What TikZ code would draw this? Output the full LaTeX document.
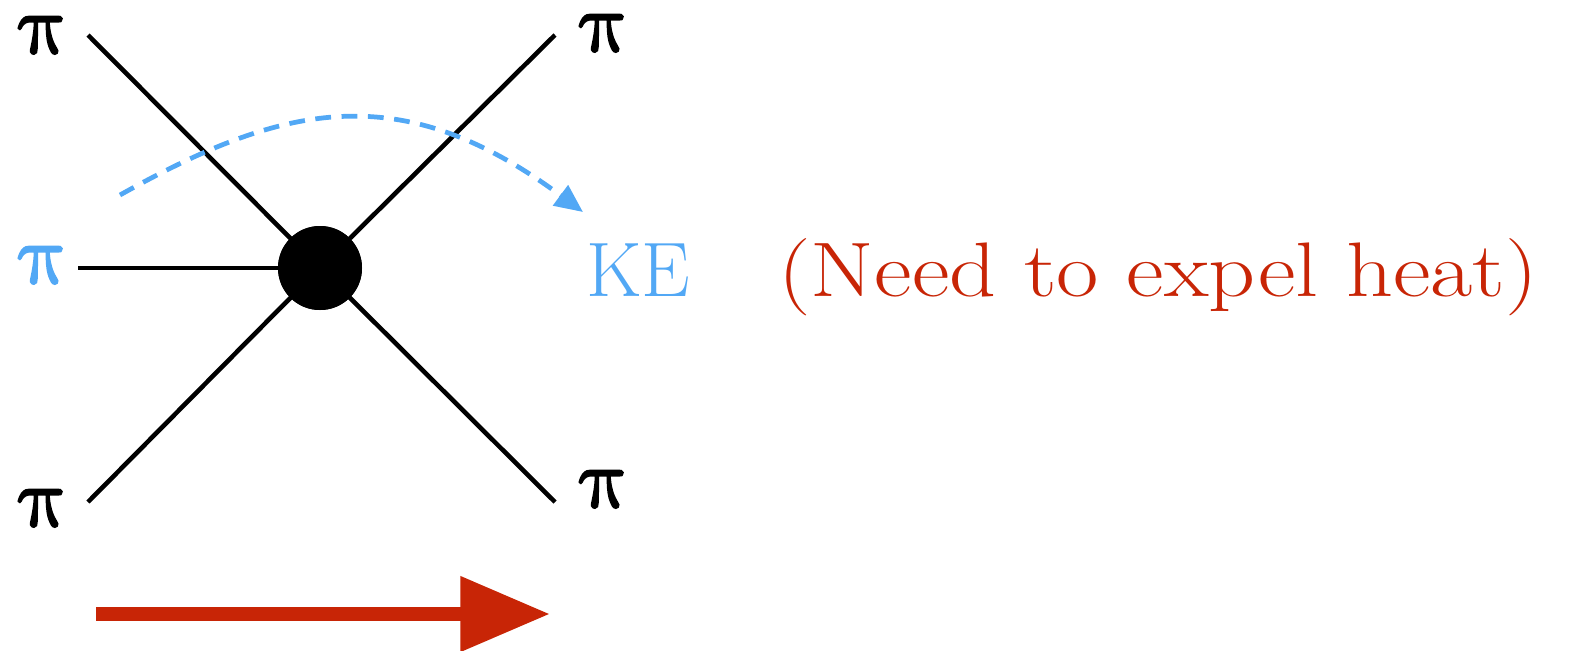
\documentclass[tikz,border=0pt]{standalone}
\usepackage{fontspec}
\newfontfamily\pifont{Latin Modern Math}[FakeBold=2.5]
\usetikzlibrary{arrows.meta}
\definecolor{kblue}{HTML}{52A8F5}
\definecolor{kred}{HTML}{C82506}
\tikzset{
  leg/.style={line width=2.6pt, black},
  pilabel/.style={inner sep=0pt, anchor=base, text height=0.45em, text depth=0.02em, font=\pifont\fontsize{48}{48}\selectfont},
  keflow/.style={kblue, line width=2.7pt, dash pattern=on 9pt off 6pt, -{Triangle[length=16pt,width=14pt]}},
  bigarrow/.style={kred, line width=8pt, -{Triangle[length=51pt,width=41pt]}},
  bigtext/.style={inner sep=0pt, anchor=base west, font=\fontsize{44}{44}\selectfont},
}
\begin{document}
\begin{tikzpicture}[x=0.02cm,y=-0.02cm]
\useasboundingbox (0,0) rectangle (1572,650);
% vertex
\node[circle, fill=black, minimum size=84*0.02cm, inner sep=0pt] (c) at (320,268) {};
% leg end points
\coordinate (tl) at (88,35);
\coordinate (tr) at (555,35);
\coordinate (bl) at (88,502);
\coordinate (br) at (555,502);
\coordinate (ml) at (78,268);
\draw[leg] (tl) -- (c.center);
\draw[leg] (tr) -- (c.center);
\draw[leg] (bl) -- (c.center);
\draw[leg] (br) -- (c.center);
\draw[leg] (ml) -- (c.center);
\node[circle, fill=black, minimum size=84*0.02cm, inner sep=0pt] at (c.center) {};
% labels
\node[pilabel] (p1) at (43,53) {π};
\node[pilabel] (p2) at (604,51) {π};
\node[pilabel, text=kblue] (p3) at (43,283) {π};
\node[pilabel] (p4) at (43,526) {π};
\node[pilabel] (p5) at (604,507) {π};
% KE flow
\coordinate (ks) at (120,195);
\coordinate (ke) at (583,212);
\draw[keflow] (ks) .. controls (286,102) and (402,78) .. (ke);
\node[bigtext, text=kblue] (KE) at (586,296) {KE};
\node[bigtext, text=kred] (heat) at (778,296) {\scalebox{1.19}[1]{(Need to expel heat)}};
% time arrow
\coordinate (a0) at (96,614);
\coordinate (a1) at (550,614);
\draw[bigarrow] (a0) -- (a1);
\end{tikzpicture}
\end{document}
